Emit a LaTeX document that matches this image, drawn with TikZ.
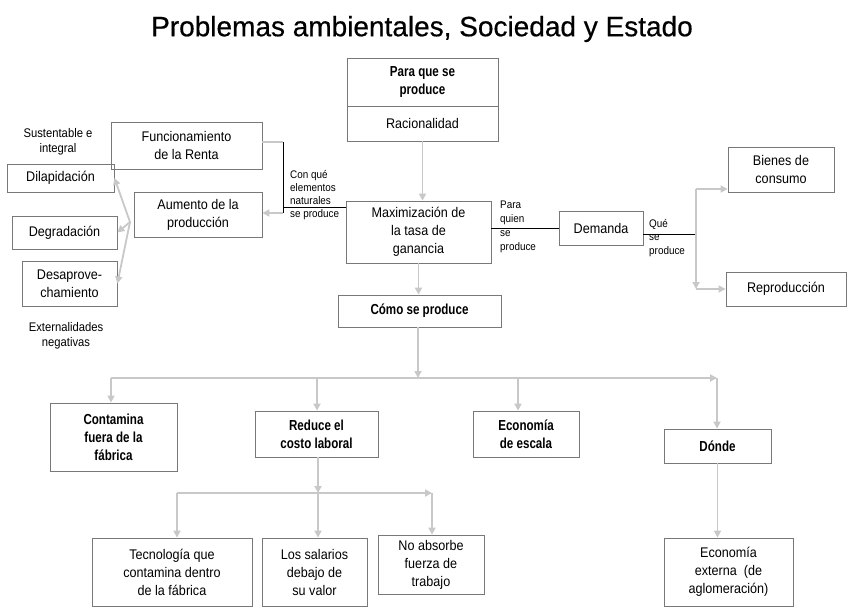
\documentclass[tikz,border=0pt]{standalone}
\usepackage{fontspec}
\setmainfont{Liberation Sans}[FakeStretch=0.9]
\newfontfamily\negrita{Liberation Sans Bold}[FakeStretch=0.8]
\newfontfamily\titulofont{Liberation Sans}[FakeBold=0.5]
\usetikzlibrary{arrows.meta}
\definecolor{linea}{RGB}{200,200,200}
\definecolor{borde}{RGB}{120,120,120}
\tikzset{
  caja/.style={draw=borde, line width=0.8pt, align=center, inner sep=2pt,
    font=\fontsize{14}{18}\selectfont},
  fuerte/.style={caja, font=\negrita\fontsize{14.5}{18}\selectfont},
  flecha/.style={draw=linea, line width=1.8pt, -{Triangle[length=7pt,width=7pt]}},
  gris/.style={draw=linea, line width=1.8pt},
  negro/.style={draw=black, line width=0.7pt},
  nota/.style={align=left, inner sep=0pt, font=\fontsize{11}{13}\selectfont},
  lado/.style={align=center, inner sep=0pt, font=\fontsize{12.5}{15}\selectfont},
}
\begin{document}
\begin{tikzpicture}[x=1pt,y=-1pt]
\useasboundingbox (0,0) rectangle (848,607);
\node (titulo) at (422,29) {\titulofont\fontsize{28}{30}\selectfont Problemas ambientales, Sociedad y Estado};

\node[fuerte, minimum width=151pt, minimum height=48pt] (para) at (422.5,82) {Para que se\\produce};
\node[caja, minimum width=151pt, minimum height=35pt] (racio) at (422.5,123.5) {Racionalidad};
\node[caja, minimum width=145pt, minimum height=62pt] (maxi) at (418.5,232) {Maximización de\\la tasa de\\ganancia};
\node[fuerte, minimum width=163pt, minimum height=32pt] (como) at (419.5,311) {Cómo se produce};

\node[caja, minimum width=151pt, minimum height=47pt] (func) at (186.5,145.5) {Funcionamiento\\de la Renta};
\node[caja, minimum width=128pt, minimum height=45pt] (aumento) at (198,214.5) {Aumento de la\\producción};
\node[caja, minimum width=107pt, minimum height=28pt] (dila) at (60.5,178) {Dilapidación};
\node[caja, minimum width=105pt, minimum height=33pt] (degra) at (64.5,232.5) {Degradación};
\node[caja, minimum width=95pt, minimum height=45pt] (desap) at (69.5,283.5) {Desaprove-\\chamiento};
\node[lado] (sust) at (58,142) {Sustentable e\\integral};
\node[lado] (exter) at (66,336) {Externalidades\\negativas};

\node[caja, minimum width=84pt, minimum height=34pt] (demanda) at (601,228) {Demanda};
\node[caja, minimum width=106pt, minimum height=45pt] (bienes) at (781,169.5) {Bienes de\\consumo};
\node[caja, minimum width=120pt, minimum height=34pt] (repro) at (786,289) {Reproducción};

\node[nota, anchor=west] (conque) at (290,195) {Con qué\\elementos\\naturales\\se produce};
\node[nota, anchor=west, font=\fontsize{11}{14}\selectfont] (paraquien) at (500,227) {Para\\quien\\se\\produce};
\node[nota, anchor=west, font=\fontsize{11}{13.5}\selectfont] (queprod) at (649,238) {Qué\\se\\produce};

\node[fuerte, minimum width=127pt, minimum height=68pt] (contamina) at (113.5,437) {Contamina\\fuera de la\\fábrica};
\node[fuerte, minimum width=123pt, minimum height=46pt] (reduce) at (316.5,434) {Reduce el\\costo laboral};
\node[fuerte, minimum width=106pt, minimum height=46pt] (escala) at (526,434) {Economía\\de escala};
\node[fuerte, minimum width=107pt, minimum height=34pt] (donde) at (717.5,446) {Dónde};

\node[caja, minimum width=160pt, minimum height=68pt] (tecno) at (172,572) {Tecnología que\\contamina dentro\\de la fábrica};
\node[caja, minimum width=105pt, minimum height=68pt] (salarios) at (314.5,572) {Los salarios\\debajo de\\su valor};
\node[caja, minimum width=106pt, minimum height=59pt] (absorbe) at (431,564.5) {No absorbe\\fuerza de\\trabajo};
\node[caja, minimum width=129pt, minimum height=68pt] (externa) at (728.5,572) {Economía\\externa\ \ (de\\aglomeración)};

\coordinate (cq) at (283,142);
\coordinate (cq2) at (283,213);
\coordinate (av) at (130,222);
\coordinate (qp) at (696,234);
\coordinate (bq) at (696,189);
\coordinate (b1) at (111,378);
\coordinate (b2) at (717,378);
\coordinate (c1) at (177,493);
\coordinate (c2) at (432,493);

\draw[flecha] (racio.south) -- (racio.south |- maxi.north);
\draw[flecha] (maxi.south) -- (maxi.south |- como.north);

\draw[gris] (func.east |- cq) -- (cq);
\draw[negro] (cq) -- (cq2);
\draw[negro] (283,207) -- (maxi.west |- 0,207);
\draw[flecha] (cq2) -- (cq2 -| aumento.east);
\draw[flecha] (av) -- (dila.east);
\draw[flecha] (av) -- (degra.east);
\draw[flecha] (av) -- (desap.east);

\draw[negro] (demanda.west -| maxi.east) -- (demanda.west);
\draw[negro] (demanda.east |- qp) -- (qp);
\draw[gris] (qp) -- (bq);
\draw[flecha] (bq) -- (bq -| bienes.west);
\draw[flecha] (qp) -- (qp |- repro.west);
\draw[flecha] (qp |- repro.west) -- (repro.west);

\draw[flecha] (418,0 |- como.south) -- (418,378);
\draw[flecha] (b1) -- (b2);
\draw[flecha] (b1) -- (b1 |- contamina.north);
\draw[flecha] (317,378) -- (317,0 |- reduce.north);
\draw[flecha] (518,378) -- (518,0 |- escala.north);
\draw[flecha] (b2) -- (b2 |- donde.north);

\draw[flecha] (318,0 |- reduce.south) -- (318,493);
\draw[flecha] (c1) -- (c2);
\draw[flecha] (c1) -- (c1 |- tecno.north);
\draw[flecha] (318,493) -- (318,0 |- salarios.north);
\draw[flecha] (c2) -- (c2 |- absorbe.north);
\draw[flecha] (donde.south) -- (donde.south |- externa.north);
\end{tikzpicture}
\end{document}
